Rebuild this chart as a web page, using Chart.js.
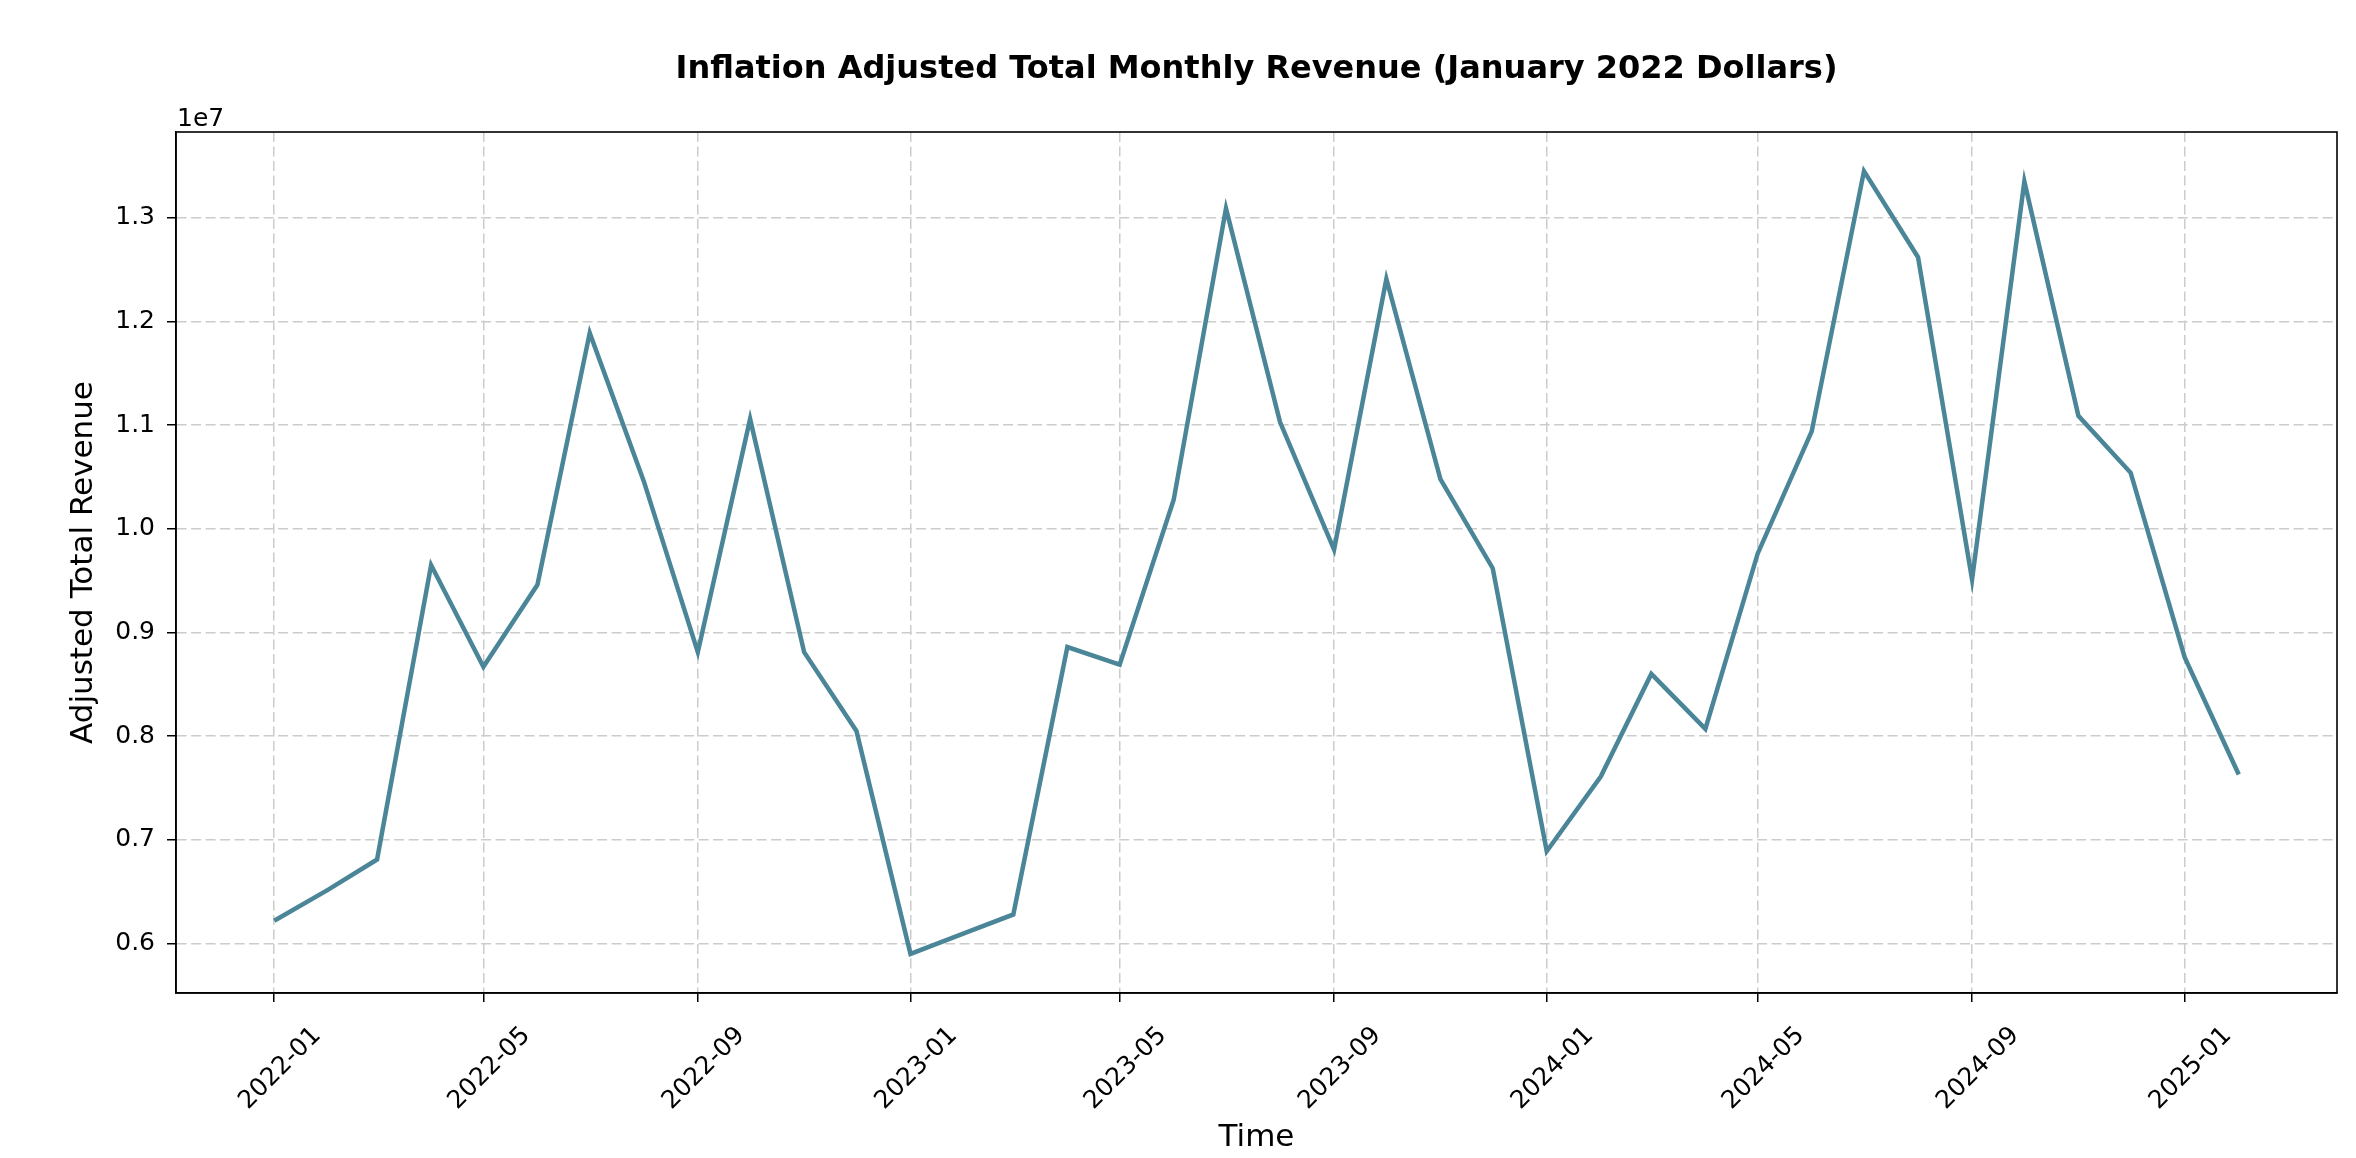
<!DOCTYPE html>
<html>
<head>
<meta charset="utf-8">
<script src="https://cdn.jsdelivr.net/npm/chart.js@4.4.1/dist/chart.umd.min.js"></script>
<style>
  html, body { margin: 0; padding: 0; background: #fff; }
</style>
</head>
<body>
<canvas id="chart" width="2356" height="1158"></canvas>
<script>
// monthly data
const months = [
  "2022-01", "2022-02", "2022-03", "2022-04", "2022-05", "2022-06",
  "2022-07", "2022-08", "2022-09", "2022-10", "2022-11", "2022-12",
  "2023-01", "2023-02", "2023-03", "2023-04", "2023-05", "2023-06",
  "2023-07", "2023-08", "2023-09", "2023-10", "2023-11", "2023-12",
  "2024-01", "2024-02", "2024-03", "2024-04", "2024-05", "2024-06",
  "2024-07", "2024-08", "2024-09", "2024-10", "2024-11", "2024-12",
  "2025-01", "2025-02"
];
const revenue = [
  6220000, 6520000, 6810000, 9650000, 8670000, 9460000,
  11890000, 10460000, 8810000, 11060000, 8810000, 8050000,
  5900000, 6100000, 6280000, 8860000, 8690000, 10280000,
  13090000, 11030000, 9800000, 12410000, 10480000, 9620000,
  6890000, 7610000, 8600000, 8070000, 9760000, 10940000,
  13450000, 12620000, 9510000, 13350000, 11090000, 10540000,
  8760000, 7630000
];
const xTickLabels = [
  "2022-01", "2022-05", "2022-09", "2023-01", "2023-05",
  "2023-09", "2024-01", "2024-05", "2024-09", "2025-01"
];
const yTickValues = [6e6, 7e6, 8e6, 9e6, 10e6, 11e6, 12e6, 13e6];

const FONT = "DejaVu Sans";
const lineColor = "#4a8698";

// days since 2022-01-01, so the x axis behaves like a date axis
function dayOf(ym) {
  const [y, m] = ym.split("-").map(Number);
  return (Date.UTC(y, m - 1, 1) - Date.UTC(2022, 0, 1)) / 86400000;
}

const points = months.map((m, i) => ({ x: dayOf(m), y: revenue[i] }));
const xs = points.map(p => p.x);
const xSpan = Math.max(...xs) - Math.min(...xs);
const ySpan = Math.max(...revenue) - Math.min(...revenue);

const frame = {
  id: "frame",
  afterDraw(chart) {
    const { ctx, chartArea: a } = chart;
    ctx.save();
    ctx.strokeStyle = "#000";
    ctx.lineWidth = 1.6;
    ctx.setLineDash([]);
    ctx.strokeRect(a.left, a.top, a.right - a.left, a.bottom - a.top);
    ctx.fillStyle = "#000";
    ctx.font = "25px " + FONT;
    ctx.textAlign = "left";
    ctx.textBaseline = "alphabetic";
    ctx.fillText("1e7", a.left + 1, a.top - 6);
    ctx.restore();
  }
};

new Chart(document.getElementById("chart"), {
  type: "line",
  data: {
    datasets: [{
      data: points,
      borderColor: lineColor,
      borderWidth: 4.5,
      pointRadius: 0,
      tension: 0,
      fill: false
    }]
  },
  options: {
    responsive: false,
    devicePixelRatio: 1,
    animation: false,
    layout: { padding: { left: 0, right: 19, top: 0, bottom: 0 } },
    plugins: {
      legend: { display: false },
      tooltip: { enabled: false },
      title: {
        display: true,
        fullSize: false,
        text: "Inflation Adjusted Total Monthly Revenue (January 2022 Dollars)",
        color: "#000",
        font: { family: FONT, size: 32, weight: "bold" },
        padding: { top: 50, bottom: 43.6 }
      }
    },
    scales: {
      x: {
        type: "linear",
        min: Math.min(...xs) - xSpan * 0.05,
        max: Math.max(...xs) + xSpan * 0.05,
        afterBuildTicks: s => { s.ticks = xTickLabels.map(l => ({ value: dayOf(l) })); },
        afterFit: s => { s.height = 165; },
        ticks: {
          autoSkip: false,
          minRotation: 45,
          maxRotation: 45,
          padding: 19,
          labelOffset: 43,
          color: "#000",
          font: { family: FONT, size: 25 },
          callback: (v, i) => xTickLabels[i]
        },
        grid: {
          color: "#cccccc",
          lineWidth: 1.5,
          tickLength: 9,
          tickColor: "#000",
          tickWidth: 1.5,
          tickBorderDash: []
        },
        border: { display: true, color: "#000", width: 1.6, dash: [10, 4.5] },
        title: {
          display: true,
          text: "Time",
          color: "#000",
          font: { family: FONT, size: 31 },
          padding: { top: 0, bottom: 1 }
        }
      },
      y: {
        type: "linear",
        min: Math.min(...revenue) - ySpan * 0.05,
        max: Math.max(...revenue) + ySpan * 0.05,
        afterBuildTicks: s => { s.ticks = yTickValues.map(v => ({ value: v })); },
        afterFit: s => { s.width = 176; },
        ticks: {
          padding: 12,
          color: "#000",
          font: { family: FONT, size: 25 },
          callback: v => (v / 1e7).toFixed(1)
        },
        grid: {
          color: "#cccccc",
          lineWidth: 1.5,
          tickLength: 9,
          tickColor: "#000",
          tickWidth: 1.5,
          tickBorderDash: []
        },
        border: { display: true, color: "#000", width: 1.6, dash: [10, 4.5] },
        title: {
          display: true,
          text: "Adjusted Total Revenue",
          color: "#000",
          font: { family: FONT, size: 31 },
          padding: { top: 65, bottom: 0 }
        }
      }
    }
  },
  plugins: [frame]
});
</script>
</body>
</html>
